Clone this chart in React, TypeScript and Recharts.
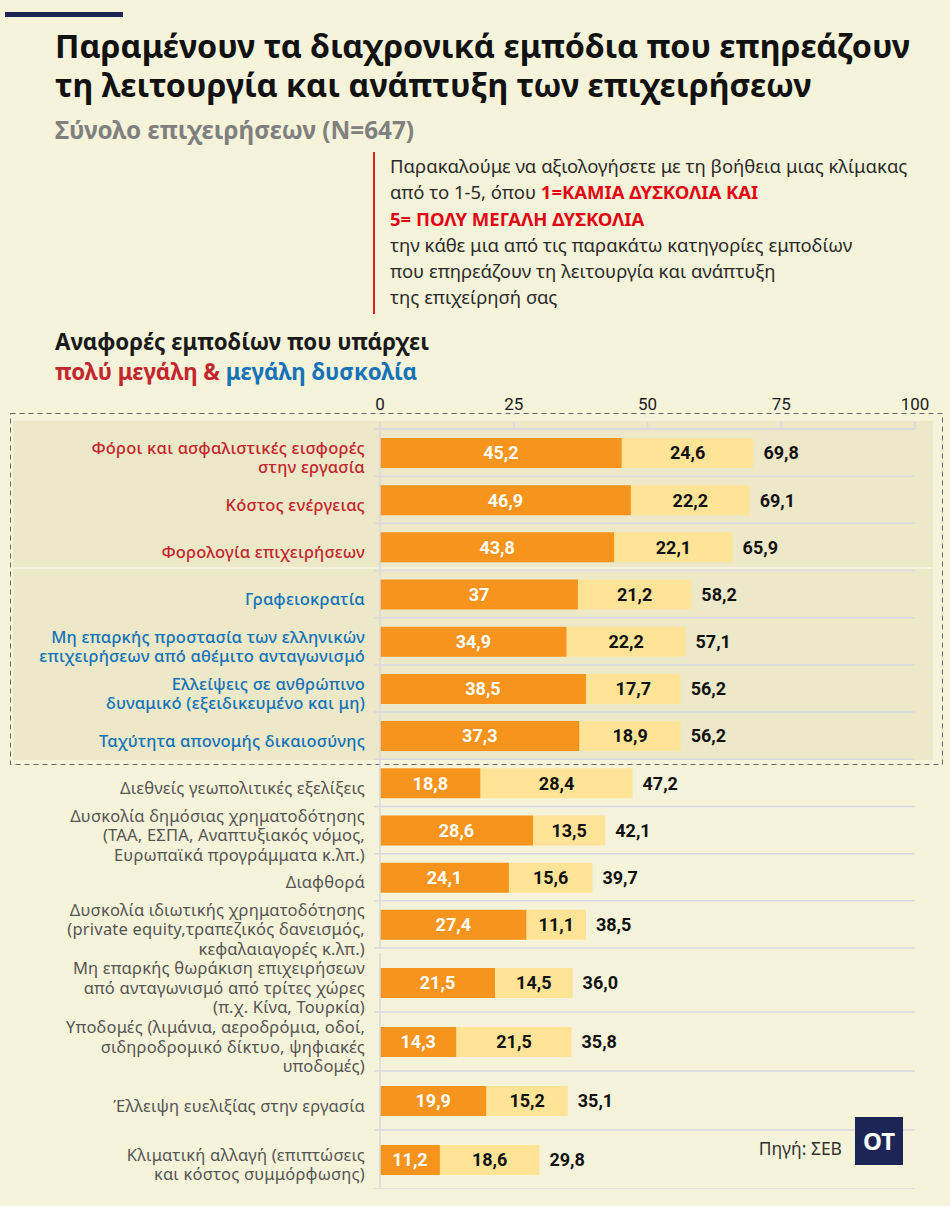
import React from "react";
import {
  Bar,
  BarChart,
  CartesianGrid,
  LabelList,
  XAxis,
  YAxis,
} from "recharts";

// #region Data
const categories = [
  "Φόροι και ασφαλιστικές εισφορές\nστην εργασία",
  "Κόστος ενέργειας",
  "Φορολογία επιχειρήσεων",
  "Γραφειοκρατία",
  "Μη επαρκής προστασία των ελληνικών\nεπιχειρήσεων  από αθέμιτο ανταγωνισμό",
  "Ελλείψεις σε ανθρώπινο\nδυναμικό (εξειδικευμένο και μη)",
  "Ταχύτητα απονομής δικαιοσύνης",
  "Διεθνείς γεωπολιτικές εξελίξεις",
  "Δυσκολία δημόσιας χρηματοδότησης\n(ΤΑΑ, ΕΣΠΑ, Αναπτυξιακός νόμος,\nΕυρωπαϊκά προγράμματα κ.λπ.)",
  "Διαφθορά",
  "Δυσκολία ιδιωτικής χρηματοδότησης\n(private equity,τραπεζικός δανεισμός,\nκεφαλαιαγορές κ.λπ.)",
  "Μη επαρκής θωράκιση επιχειρήσεων\nαπό ανταγωνισμό από τρίτες χώρες\n(π.χ. Κίνα, Τουρκία)",
  "Υποδομές (λιμάνια, αεροδρόμια, οδοί,\nσιδηροδρομικό δίκτυο, ψηφιακές\nυποδομές)",
  "Έλλειψη ευελιξίας στην εργασία",
  "Κλιματική αλλαγή (επιπτώσεις\nκαι κόστος συμμόρφωσης)",
];
// "πολύ μεγάλη δυσκολία"
const veryHigh = [45.2, 46.9, 43.8, 37, 34.9, 38.5, 37.3, 18.8, 28.6, 24.1, 27.4, 21.5, 14.3, 19.9, 11.2];
// "μεγάλη δυσκολία"
const high = [24.6, 22.2, 22.1, 21.2, 22.2, 17.7, 18.9, 28.4, 13.5, 15.6, 11.1, 14.5, 21.5, 15.2, 18.6];
const totals = [69.8, 69.1, 65.9, 58.2, 57.1, 56.2, 56.2, 47.2, 42.1, 39.7, 38.5, 36.0, 35.8, 35.1, 29.8];
const xTicks = [0, 25, 50, 75, 100];
// #endregion

const ORANGE = "#f7941e";
const YELLOW = "#ffe497";
const RED = "#c4262e";
const BLUE = "#1472b9";
const GRAY = "#555555";
const GRID = "#d9d9e1";
const NUM_FONT = "Roboto, 'DejaVu Sans', sans-serif";
const TEXT_FONT = "'Noto Sans', 'Open Sans', sans-serif";

const rows = categories.map((name, i) => ({
  name,
  veryHigh: veryHigh[i],
  high: high[i],
  total: totals[i],
}));

const fmtSeg = (v: any) => {
  const n = Number(v);
  return Number.isInteger(n) ? String(n) : n.toFixed(1).replace(".", ",");
};
const fmtTotal = (v: any) => Number(v).toFixed(1).replace(".", ",");

const CategoryTick = ({ x, y, payload }: any) => {
  const idx = categories.indexOf(payload.value);
  const lines = String(payload.value).split("\n");
  const color = idx < 3 ? RED : idx < 7 ? BLUE : GRAY;
  const lh = 19.5;
  const startY = y + 4 - ((lines.length - 1) * lh) / 2;
  return (
    <text
      x={x - 7}
      y={startY}
      textAnchor="end"
      dominantBaseline="central"
      fill={color}
      fontFamily={TEXT_FONT}
      fontSize={16.5}
      letterSpacing={0.2}
      fontWeight={idx < 7 ? 500 : 400}
    >
      {lines.map((l, i) => (
        <tspan key={i} x={x - 7} y={startY + i * lh}>
          {l}
        </tspan>
      ))}
    </text>
  );
};

const makeGridLine = (skipFirst: boolean) => (p: any) =>
  skipFirst && p.index === 0 ? null : (
    <line
      key={`g-${p.y1}`}
      x1={p.x1 - 6}
      x2={p.x2}
      y1={p.y1}
      y2={p.y2}
      stroke={GRID}
      strokeWidth={1.5}
    />
  );

const ChartBlock = ({
  data,
  height,
  showAxis,
  top,
  bottom,
}: {
  data: typeof rows;
  height: number;
  showAxis: boolean;
  top: number;
  bottom: number;
}) => {
  const n = data.length;
  return (
    <BarChart
      width={950}
      height={height}
      data={data}
      layout="vertical"
      margin={{ top, right: 35, bottom, left: 0 }}
    >
      <CartesianGrid
        vertical={false}
        horizontal={makeGridLine(!showAxis)}
        horizontalCoordinatesGenerator={({ offset }: any) =>
          Array.from({ length: n + 1 }, (_, i) => offset.top + (i * offset.height) / n)
        }
      />
      <XAxis
        type="number"
        domain={[0, 100]}
        ticks={xTicks}
        orientation="top"
        hide={!showAxis}
        height={49}
        interval={0}
        axisLine={{ stroke: GRID, strokeWidth: 1.5 }}
        tickLine={{ stroke: GRID, strokeWidth: 1.5 }}
        tickSize={7}
        tickMargin={12}
        tick={{ fill: "#1a1a1a", fontSize: 17, fontFamily: NUM_FONT }}
      />
      <YAxis
        type="category"
        dataKey="name"
        width={380}
        axisLine={{ stroke: GRID, strokeWidth: 1.5 }}
        tickLine={false}
        tickSize={6}
        tickMargin={2}
        interval={0}
        tick={<CategoryTick />}
      />
      <Bar dataKey="veryHigh" stackId="a" fill={ORANGE} barSize={30} isAnimationActive={false}>
        <LabelList
          dataKey="veryHigh"
          position="center"
          formatter={fmtSeg}
          fill="#ffffff"
          fontSize={18}
          fontWeight={700}
          fontFamily={NUM_FONT}
        />
      </Bar>
      <Bar dataKey="high" stackId="a" fill={YELLOW} barSize={30} isAnimationActive={false}>
        <LabelList
          dataKey="high"
          position="center"
          formatter={fmtSeg}
          fill="#111111"
          fontSize={18}
          fontWeight={700}
          fontFamily={NUM_FONT}
        />
        <LabelList
          dataKey="total"
          position="right"
          offset={10}
          formatter={fmtTotal}
          fill="#111111"
          fontSize={18}
          fontWeight={700}
          fontFamily={NUM_FONT}
        />
      </Bar>
    </BarChart>
  );
};

const abs = (s: React.CSSProperties): React.CSSProperties => ({ position: "absolute", ...s });

export default function App() {
  return (
    <div
      style={{
        position: "absolute",
        left: 0,
        top: 0,
        width: 950,
        height: 1206,
        background: "#f5f3d9",
        overflow: "hidden",
        fontFamily: TEXT_FONT,
      }}
    >
      <div style={abs({ left: 5, top: 12, width: 118, height: 5, background: "#1c2556" })} />
      <div
        style={abs({
          left: 55,
          top: 26,
          fontSize: 32.3,
          lineHeight: "39px",
          fontWeight: 700,
          color: "#111",
          whiteSpace: "nowrap",
        })}
      >
        Παραμένουν τα διαχρονικά εμπόδια που επηρεάζουν
        <br />
        τη λειτουργία και ανάπτυξη των επιχειρήσεων
      </div>
      <div
        style={abs({
          left: 55,
          top: 116,
          fontSize: 24.3,
          lineHeight: "28px",
          fontWeight: 700,
          color: "#808080",
          whiteSpace: "nowrap",
        })}
      >
        Σύνολο επιχειρήσεων (N=647)
      </div>
      <div style={abs({ left: 373, top: 152, width: 1.5, height: 162, background: "#e31e24" })} />
      <div
        style={abs({
          left: 390,
          top: 153,
          fontSize: 18.5,
          lineHeight: "26.3px",
          color: "#2b2b2b",
          whiteSpace: "nowrap",
        })}
      >
        Παρακαλούμε να αξιολογήσετε με τη βοήθεια μιας κλίμακας
        <br />
        από το 1-5, όπου{" "}
        <b style={{ color: "#e30613" }}>1=ΚΑΜΙΑ ΔΥΣΚΟΛΙΑ ΚΑΙ</b>
        <br />
        <b style={{ color: "#e30613" }}>5= ΠΟΛΥ ΜΕΓΑΛΗ ΔΥΣΚΟΛΙΑ</b>
        <br />
        την κάθε μια από τις παρακάτω κατηγορίες εμποδίων
        <br />
        που επηρεάζουν τη λειτουργία και ανάπτυξη
        <br />
        της επιχείρησή σας
      </div>
      <div
        style={abs({
          left: 55,
          top: 327,
          fontSize: 22.3,
          lineHeight: "30px",
          fontWeight: 700,
          color: "#1a1a1a",
          whiteSpace: "nowrap",
        })}
      >
        Αναφορές εμποδίων που υπάρχει
        <br />
        <span style={{ color: RED }}>πολύ μεγάλη &amp; </span>
        <span style={{ color: BLUE }}>μεγάλη δυσκολία</span>
      </div>

      {/* shaded groups + dashed frame */}
      <div style={abs({ left: 13, top: 421, width: 920, height: 146, background: "#ece8c8" })} />
      <div style={abs({ left: 13, top: 569, width: 920, height: 191, background: "#ece8c8" })} />
      <svg style={abs({ left: 0, top: 0 })} width={950} height={800}>
        <rect
          x={10.5}
          y={413.5}
          width={932}
          height={351}
          fill="none"
          stroke="#666"
          strokeWidth={1}
          strokeDasharray="5 4"
        />
      </svg>

      <div style={abs({ left: 0, top: 380 })}>
        <ChartBlock data={rows.slice(0, 11)} height={598} showAxis top={0} bottom={30} />
      </div>
      <div style={abs({ left: 0, top: 948 })}>
        <ChartBlock data={rows.slice(11)} height={241} showAxis={false} top={5} bottom={0} />
      </div>

      <div
        style={abs({
          left: 690,
          top: 1136,
          width: 152,
          textAlign: "right",
          fontSize: 17.5,
          color: "#333",
        })}
      >
        Πηγή: ΣΕΒ
      </div>
      <div
        style={abs({
          left: 855,
          top: 1117,
          width: 48,
          height: 48,
          background: "#1c2556",
          color: "#fff",
          fontWeight: 700,
          fontSize: 24,
          lineHeight: "48px",
          textAlign: "center",
        })}
      >
        OT
      </div>
    </div>
  );
}
